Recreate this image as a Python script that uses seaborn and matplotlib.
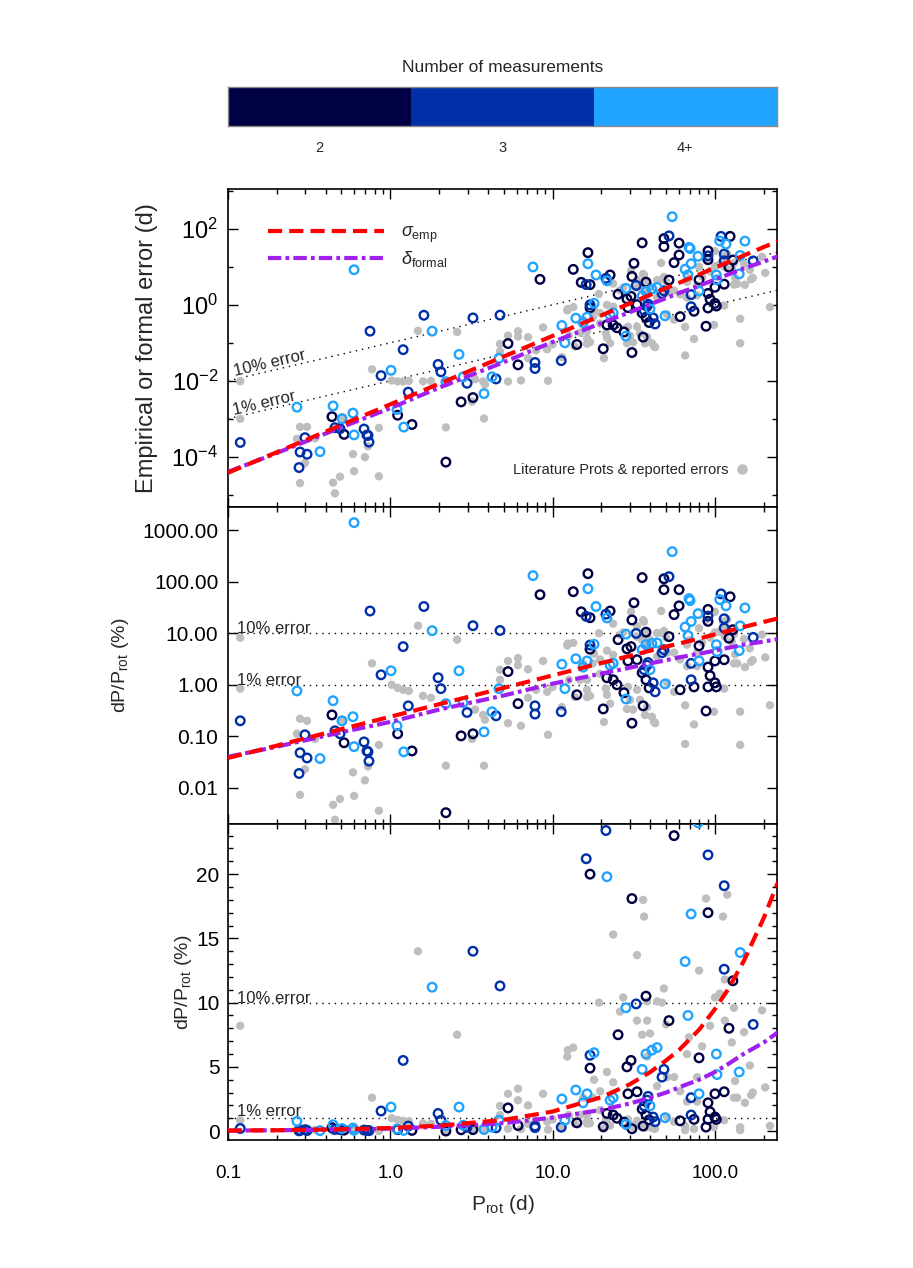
import numpy as np
import pandas as pd
import matplotlib
matplotlib.use("Agg")
import matplotlib.pyplot as plt
import seaborn as sns
from matplotlib.ticker import FixedLocator, NullLocator, LogLocator, MultipleLocator, FixedFormatter, NullFormatter
from matplotlib.lines import Line2D
from matplotlib.colors import ListedColormap

# ---------------- data (P in days, dP/P in %) ----------------
meas2_P = [0.437, 0.519, 1.11, 2.73, 3.23, 1.36, 2.20, 16.5, 8.36, 13.4, 15.0, 17.0, 22.6, 35.6, 31.7,
           30.8, 25.3, 17.0, 28.7, 30.4, 5.31, 29.1, 33.1, 21.6, 23.6, 24.9, 27.5, 14.1, 6.12, 20.5,
           30.8, 48.5, 48.5, 60.1, 60.1, 56.0, 124, 90.6, 90.6, 129, 52.1, 37.6, 122, 79.8, 114,
           100, 90.6, 35.6, 37.6, 39.3, 61.0, 74.3, 93.3, 90.6, 100, 102, 36.1, 88.1]
meas2_pct = [0.26, 0.075, 0.112, 0.102, 0.112, 0.052, 0.0033, 143, 56, 64, 26, 20, 27, 120, 39,
             18.1, 7.5, 4.9, 5.0, 5.5, 1.8, 2.9, 3.06, 1.37, 1.25, 1.0, 0.70, 0.64, 0.43, 0.34,
             0.18, 114, 70, 70, 34, 23, 51, 29, 17.0, 11.7, 8.6, 10.5, 8.0, 5.7, 3.06,
             2.9, 2.2, 1.71, 1.25, 0.87, 0.80, 0.91, 1.50, 0.91, 1.09, 0.91, 0.39, 0.31]

meas3_P = [0.750, 0.119, 0.298, 0.456, 0.490, 0.278, 0.307, 0.689, 0.729, 0.274, 1.61, 3.23, 4.74,
           1.20, 0.877, 1.97, 2.05, 1.29, 2.97, 4.48, 0.718, 0.739, 21.3, 16.1, 32.7, 17.0, 7.79,
           7.79, 11.3, 52.1, 109, 90.6, 114, 114, 172, 48.5, 47.2, 71.3, 38.7, 38.2, 36.6, 41.6,
           42.8, 71.3]
meas3_pct = [27, 0.20, 0.107, 0.128, 0.112, 0.048, 0.038, 0.078, 0.050, 0.019, 33, 14.0, 11.3,
             5.5, 1.56, 1.37, 0.84, 0.39, 0.29, 0.25, 0.052, 0.033, 23.4, 21.2, 9.9, 5.9, 0.39,
             0.27, 0.30, 125, 58, 21.5, 19.1, 12.6, 8.3, 4.8, 4.2, 2.6, 2.7, 2.4, 1.96, 1.09,
             0.73, 1.25]

meas4_P = [0.598, 0.266, 0.444, 0.504, 0.589, 0.598, 0.369, 1.81, 1.01, 2.65, 2.20, 2.81, 4.23,
           4.67, 1.10, 3.78, 1.21, 7.57, 16.5, 18.5, 21.6, 28.3, 18.0, 11.4, 13.9, 15.4, 16.3,
           22.6, 23.6, 11.9, 28.3, 54.5, 69.2, 70.3, 107, 117, 153, 78.7, 71.3, 65.5, 143, 68.2,
           102, 103, 44.0, 40.9, 37.6, 35.6, 141, 79.8, 39.8, 49.3]
meas4_pct = [1400, 0.76, 0.49, 0.20, 0.24, 0.063, 0.037, 11.2, 1.87, 1.87, 0.43, 0.45, 0.30,
             0.84, 0.16, 0.122, 0.050, 131, 73, 33, 19.8, 9.6, 6.1, 2.5, 3.2, 2.2, 2.9,
             2.4, 2.6, 0.84, 0.53, 383, 47, 43, 45, 34, 31, 24, 16.9, 13.2, 13.9, 9.0,
             6.0, 4.4, 6.5, 6.3, 6.0, 4.8, 4.6, 2.9, 1.96, 1.04]

lit_P = [0.119, 0.119, 0.278, 0.307, 0.511, 0.266, 0.344, 0.298, 0.589, 0.698, 0.278, 0.598, 0.490,
         0.444, 0.456, 1.48, 2.58, 0.771, 1.02, 1.11, 1.20, 1.30, 1.59, 1.78, 3.33, 3.73, 3.83,
         4.74, 4.74, 3.19, 0.851, 0.729, 2.20, 3.78, 0.851, 30.4, 23.6, 19.3, 12.3, 13.4, 21.6,
         23.6, 5.31, 6.12, 6.12, 8.73, 7.05, 17.7, 19.6, 10.0, 12.6, 14.8, 16.3, 21.3, 21.6, 29.1,
         30.0, 13.7, 16.3, 17.0, 7.05, 9.25, 7.90, 11.4, 22.6, 5.31, 6.38, 20.7, 28.7, 31.3, 9.37,
         46.6, 36.6, 100, 195, 167, 137, 153, 56.0, 114, 74.3, 65.5, 143, 42.2, 37.1, 98.6,
         33.1, 27.2, 26.0, 33.1, 12.4, 18.0, 19.6, 15.4, 16.3,
         36.1, 88.1, 119, 112, 79.8, 48.5, 115, 38.2, 44.0, 47.2, 100, 107, 131, 38.2, 50.0,
         93.3, 115, 151, 35.6, 39.8, 69.2, 83.4, 127, 38.2, 67.3, 164, 50.7, 56.0, 77.6, 133,
         171, 44.0, 61.0, 67.3, 77.6, 131, 204, 50.7, 65.5, 143, 218,
         33.1, 34.5, 38.2, 40.9, 42.8]
lit_pct = [8.2, 0.84, 0.22, 0.20, 0.21, 0.112, 0.089, 0.023, 0.020, 0.014, 0.0073, 0.0070, 0.0061,
           0.0047, 0.0024, 14.0, 7.5, 2.6, 1.0, 0.87, 0.80, 0.76, 0.61, 0.56, 0.33, 0.26, 0.21,
           1.96, 1.25, 0.089, 0.068, 0.026, 0.027, 0.027, 0.0036, 26, 15.3, 10.0, 5.8, 6.5, 4.6,
           3.8, 2.9, 3.3, 2.4, 2.9, 2.0, 2.6, 1.64, 0.91, 1.25, 1.25, 1.25, 0.84, 0.64, 0.91,
           0.51, 0.58, 0.58, 0.61, 0.56, 0.73, 0.80, 0.37, 0.43, 0.18, 0.16, 0.19, 0.34, 0.33, 0.107,
           27, 16.7, 26, 9.4, 2.8, 2.6, 2.2, 0.73, 0.84, 0.17, 0.071, 0.068, 0.19, 0.26, 0.30,
           13.7, 10.4, 9.3, 8.6, 6.3, 4.0, 3.1, 2.6, 0.8,
           18.0, 18.1, 18.4, 16.7, 12.5, 11.1, 11.8, 10.1, 10.1, 10.0, 10.4, 10.7, 9.6, 8.6, 8.3,
           8.2, 8.6, 7.7, 7.5, 7.6, 7.3, 6.6, 6.9, 5.8, 6.0, 5.1, 4.2, 4.2, 4.2, 3.9,
           3.0, 3.5, 3.1, 2.3, 2.3, 2.6, 3.4, 1.1, 0.4, 0.3, 0.4,
           0.80, 0.51, 0.37, 0.24, 0.18]

curve_P = [0.1, 0.2, 0.5, 1, 2, 5, 10, 20, 30, 40, 50, 60, 80, 100, 120, 150, 200, 245]
emp_pct = [0.038, 0.066, 0.138, 0.24, 0.42, 0.87, 1.52, 2.64, 3.65, 4.6, 5.5, 6.3, 7.9, 9.5,
           11.0, 13.2, 16.6, 19.4]
formal_pct = [0.040, 0.063, 0.12, 0.19, 0.33, 0.62, 1.05, 1.65, 2.15, 2.6, 3.0, 3.4, 4.0, 4.6,
              5.2, 6.0, 6.9, 7.7]

n_labels = ["2", "3", "4+"]
p1_ytick_vals = [1e-4, 1e-2, 1e0, 1e2]
p1_ytick_labels = [r"$10^{-4}$", r"$10^{-2}$", r"$10^{0}$", r"$10^{2}$"]
p2_ytick_vals = [0.01, 0.1, 1, 10, 100, 1000]
p3_ytick_vals = [0, 5, 10, 15, 20]
x_tick_vals = [0.1, 1, 10, 100]
x_tick_labels = ["0.1", "1.0", "10.0", "100.0"]

# ---------------- frames ----------------
meas = pd.concat([
    pd.DataFrame({"P": meas2_P, "pct": meas2_pct, "n": "2"}),
    pd.DataFrame({"P": meas3_P, "pct": meas3_pct, "n": "3"}),
    pd.DataFrame({"P": meas4_P, "pct": meas4_pct, "n": "4+"}),
], ignore_index=True)
meas["err"] = meas["pct"] / 100.0 * meas["P"]
lit = pd.DataFrame({"P": lit_P, "pct": lit_pct})
lit["err"] = lit["pct"] / 100.0 * lit["P"]
curves = pd.DataFrame({"P": curve_P, "emp": emp_pct, "formal": formal_pct})
curves["emp_err"] = curves["emp"] / 100.0 * curves["P"]
curves["formal_err"] = curves["formal"] / 100.0 * curves["P"]

# ---------------- style ----------------
sns.set_style("ticks")
plt.rcParams["font.family"] = ["Liberation Sans", "DejaVu Sans"]
plt.rcParams["mathtext.fontset"] = "custom"
plt.rcParams["mathtext.rm"] = "Liberation Sans"
plt.rcParams["mathtext.it"] = "Liberation Sans:italic"
plt.rcParams["mathtext.bf"] = "Liberation Sans:bold"

NAVY, BLUE, CYAN = "#000045", "#0030A8", "#20A4FF"
GRAY, RED, PURPLE = "#BEBEBE", "#FF0000", "#A020F0"
ncolors = {"2": NAVY, "3": BLUE, "4+": CYAN}

fig = plt.figure(figsize=(9.13, 12.68), dpi=100)
L, W = 0.2497, 0.6013
ax1 = fig.add_axes([L, 0.6002, W, 0.2508])
ax2 = fig.add_axes([L, 0.3502, W, 0.2500])
ax3 = fig.add_axes([L, 0.1009, W, 0.2492])
cax = fig.add_axes([L, 0.9006, W, 0.0308])

XLIM = (0.1, 241)
EMP_LS = (0, (3.4, 1.7))
FORM_LS = (0, (3.2, 1.0, 0.9, 1.0))


def draw(ax, ycol, emp_col, form_col):
    ax.set_xscale("log")
    sns.scatterplot(data=lit, x="P", y=ycol, ax=ax, color=GRAY, s=36, linewidth=0,
                    edgecolor="none", zorder=2, legend=False)
    for n in n_labels:
        sub = meas[meas["n"] == n]
        sns.scatterplot(data=sub, x="P", y=ycol, ax=ax, marker="o", s=38, color=ncolors[n],
                        facecolor="none", edgecolor=ncolors[n], linewidth=1.7, zorder=3,
                        legend=False)
    sns.lineplot(data=curves, x="P", y=emp_col, ax=ax, color=RED, linewidth=3.0,
                 linestyle=EMP_LS, estimator=None, sort=False, zorder=5, legend=False)
    sns.lineplot(data=curves, x="P", y=form_col, ax=ax, color=PURPLE, linewidth=3.0,
                 linestyle=FORM_LS, estimator=None, sort=False, zorder=4, legend=False)
    ax.set_xlim(*XLIM)
    ax.set_xlabel("")
    ax.set_ylabel("")
    ax.xaxis.set_major_locator(FixedLocator(x_tick_vals))
    ax.xaxis.set_minor_locator(LogLocator(base=10, subs=np.arange(2, 10)))
    ax.xaxis.set_minor_formatter(NullFormatter())
    ax.tick_params(which="both", direction="in", top=True, right=True, colors="black", width=1)
    ax.tick_params(which="major", length=7)
    ax.tick_params(which="minor", length=3.5)
    for sp in ax.spines.values():
        sp.set_visible(True)
        sp.set_linewidth(1.2)
        sp.set_color("black")


draw(ax1, "err", "emp_err", "formal_err")
draw(ax2, "pct", "emp", "formal")
draw(ax3, "pct", "emp", "formal")

# ----- panel 1 -----
ax1.set_yscale("log")
ax1.set_ylim(10 ** -5.32, 10 ** 3.05)
ax1.yaxis.set_major_locator(FixedLocator(p1_ytick_vals))
ax1.yaxis.set_major_formatter(FixedFormatter(p1_ytick_labels))
ax1.yaxis.set_minor_locator(FixedLocator([1e-5, 1e-3, 1e-1, 1e1, 1e3]))
ax1.yaxis.set_minor_formatter(NullFormatter())
ax1.tick_params(axis="y", labelsize=17, pad=7)
ax1.xaxis.set_major_formatter(NullFormatter())
for frac in (0.1, 0.01):
    ax1.plot(list(XLIM), [frac * XLIM[0], frac * XLIM[1]], color="black", lw=1.0,
             ls=(0, (1, 3.5)), zorder=1)
ax1.text(0.1104, 0.0136, "10% error", rotation=13.2, rotation_mode="anchor", ha="left",
         va="baseline", fontsize=12, zorder=6)
ax1.text(0.1089, 0.00127, "1% error", rotation=13.2, rotation_mode="anchor", ha="left",
         va="baseline", fontsize=12, zorder=6)
ax1.set_ylabel("Empirical or formal error (d)", fontsize=17)
ax1.yaxis.set_label_coords(-0.128, 0.5)

h_emp = Line2D([], [], color=RED, lw=3.0, ls=EMP_LS)
h_form = Line2D([], [], color=PURPLE, lw=3.0, ls=FORM_LS)
leg1 = ax1.legend([h_emp, h_form], [r"$\sigma_{\rm emp}$", r"$\delta_{\rm formal}$"],
                  loc="upper left", bbox_to_anchor=(0.073, 0.89), frameon=False, fontsize=13,
                  handlelength=6.4, handletextpad=0.95, labelspacing=0.25, borderpad=0,
                  borderaxespad=0)
ax1.add_artist(leg1)
h_lit = Line2D([], [], marker="o", color=GRAY, ls="none", markersize=6.5)
ax1.legend([h_lit], ["Literature Prots & reported errors"], loc="lower right",
           bbox_to_anchor=(0.949, 0.094), frameon=False, fontsize=10.5, markerfirst=False,
           handlelength=1.0, handletextpad=0.4, borderpad=0, borderaxespad=0)

# ----- panel 2 -----
ax2.set_yscale("log")
ax2.set_ylim(10 ** -2.70, 10 ** 3.45)
ax2.yaxis.set_major_locator(FixedLocator(p2_ytick_vals))
ax2.yaxis.set_major_formatter(FixedFormatter([f"{v:.2f}" for v in p2_ytick_vals]))
ax2.yaxis.set_minor_locator(NullLocator())
ax2.tick_params(axis="y", labelsize=15, pad=7)
ax2.xaxis.set_major_formatter(NullFormatter())
for lvl in (10, 1):
    ax2.axhline(lvl, color="black", lw=1.0, ls=(0, (1, 3.5)), zorder=1)
ax2.text(0.1136, 10, "10% error", ha="left", va="baseline", fontsize=12, zorder=6)
ax2.text(0.1136, 1, "1% error", ha="left", va="baseline", fontsize=12, zorder=6)
ax2.set_ylabel(r"dP/P$_{\rm rot}$ (%)", fontsize=14)
ax2.yaxis.set_label_coords(-0.177, 0.5)

# ----- panel 3 -----
ax3.set_ylim(-0.7, 23.9)
ax3.yaxis.set_major_locator(FixedLocator(p3_ytick_vals))
ax3.yaxis.set_minor_locator(MultipleLocator(1))
ax3.yaxis.set_minor_formatter(NullFormatter())
ax3.tick_params(axis="y", labelsize=15, pad=6)
ax3.xaxis.set_major_formatter(FixedFormatter(x_tick_labels))
ax3.tick_params(axis="x", labelsize=13.5, pad=18)
for lvl in (10, 1):
    ax3.axhline(lvl, color="black", lw=1.0, ls=(0, (1, 3.5)), zorder=1)
ax3.text(0.1136, 10, "10% error", ha="left", va="baseline", fontsize=12, zorder=6)
ax3.text(0.1136, 1.2, "1% error", ha="left", va="baseline", fontsize=12, zorder=6)
ax3.set_ylabel(r"dP/P$_{\rm rot}$ (%)", fontsize=14)
ax3.yaxis.set_label_coords(-0.062, 0.5)
ax3.set_xlabel(r"P$_{\rm rot}$ (d)", fontsize=15)
ax3.xaxis.set_label_coords(0.5, -0.168)

# ----- colour bar of number of measurements -----
sns.heatmap(np.array([[0, 1, 2]]), ax=cax, cmap=ListedColormap([NAVY, BLUE, CYAN]),
            vmin=-0.5, vmax=2.5, cbar=False, xticklabels=n_labels, yticklabels=False,
            linewidths=0)
for sp in cax.spines.values():
    sp.set_visible(True)
    sp.set_color("#888888")
    sp.set_linewidth(1.0)
cax.tick_params(axis="x", length=0, pad=11, labelsize=10.5, rotation=0)
cax.tick_params(axis="y", length=0)
cax.set_title("Number of measurements", fontsize=12.5, pad=11)

fig.savefig("out.png", dpi=100)
